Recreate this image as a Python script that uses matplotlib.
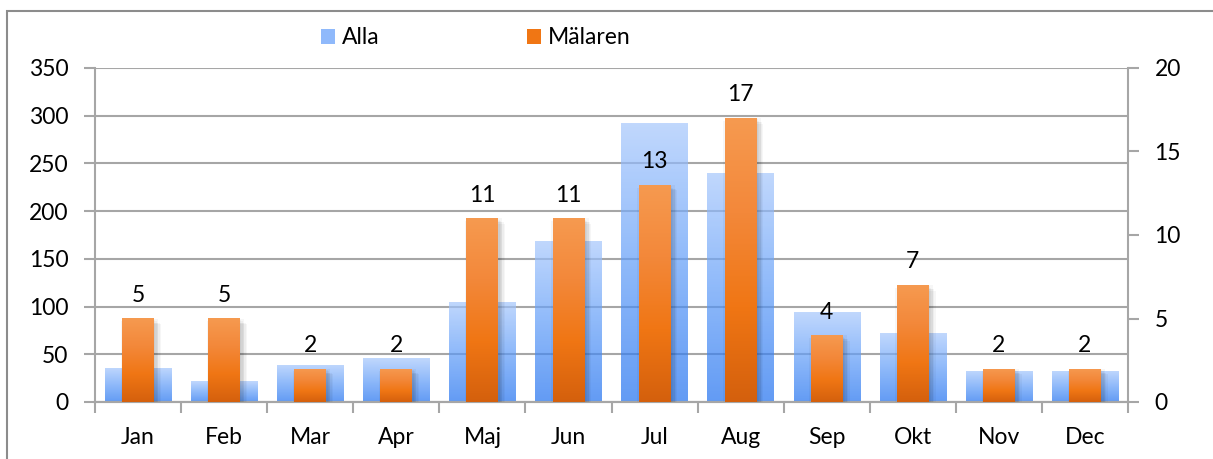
import numpy as np
import matplotlib
matplotlib.use("Agg")
import matplotlib.pyplot as plt
from matplotlib.colors import LinearSegmentedColormap
from matplotlib.patches import Rectangle, Patch
import matplotlib.patheffects as pe

plt.rcParams["font.family"] = ["Lato", "DejaVu Sans"]

months = ["Jan", "Feb", "Mar", "Apr", "Maj", "Jun", "Jul", "Aug", "Sep", "Okt", "Nov", "Dec"]
alla = [36, 22, 39, 46, 105, 169, 292, 240, 94, 72, 33, 33]
malaren = [5, 5, 2, 2, 11, 11, 13, 17, 4, 7, 2, 2]

W, H = 1213, 459
GRID = "#a6a6a6"
FS = 16.5

blue_cm = LinearSegmentedColormap.from_list("blue", ["#1f70f0", "#5f9cf8", "#a6c7fd"])
orange_cm = LinearSegmentedColormap.from_list("orange", ["#d4600d", "#f07614", "#f3883a", "#f69a50"])
grad = np.linspace(0, 1, 256).reshape(-1, 1)

fig = plt.figure(figsize=(W / 100, H / 100), dpi=100)
ax = fig.add_axes([95 / W, 57 / H, (1128 - 95) / W, 334 / H])
ax2 = ax.twinx()

x = np.arange(len(months)) + 0.5

# Alla on the left axis, semi transparent so the grid shows through
ax.set_axisbelow(True)
ax.grid(axis="y", color=GRID, lw=1.5, zorder=0)
bars_a = ax.bar(x, alla, width=0.77, color="none", zorder=2)
for b in bars_a:
    x0, y0 = b.get_x(), b.get_y()
    im = ax.imshow(grad, cmap=blue_cm, origin="lower", aspect="auto", alpha=0.7,
                   extent=(x0, x0 + b.get_width(), y0, y0 + b.get_height()), zorder=2)
    im.set_clip_path(b)

# Mälaren on the right axis with a soft shadow
shadow = [pe.SimplePatchShadow(offset=(dx, dy), shadow_rgbFace="k", alpha=0.035)
          for dx, dy in ((1, -1), (2, -2), (3, -3), (4, -3), (5, -4), (-1, -2), (3, 0))]
bars_m = ax2.bar(x, malaren, width=0.37, color="#f07614", zorder=3,
                 path_effects=shadow + [pe.Normal()])
for b in bars_m:
    x0, y0 = b.get_x(), b.get_y()
    im = ax2.imshow(grad, cmap=orange_cm, origin="lower", aspect="auto",
                    extent=(x0, x0 + b.get_width(), y0, y0 + b.get_height()), zorder=4)
    im.set_clip_path(b)
for xi, v in zip(x, malaren):
    ax2.annotate(str(v), (xi, v), xytext=(0, 12), textcoords="offset points",
                 ha="center", va="baseline", fontsize=FS, color="black", zorder=5)

ax.set_xlim(0, 12)
ax.set_ylim(0, 350)
ax2.set_ylim(0, 20)
ax.set_yticks(np.arange(0, 351, 50))
ax2.set_yticks(np.arange(0, 21, 5))
ax.set_xticks(np.arange(13))
ax.set_xticklabels([])
ax.set_xticks(x, minor=True)
ax.set_xticklabels(months, minor=True)

for a in (ax, ax2):
    for s in a.spines.values():
        s.set_color(GRID)
        s.set_linewidth(1.5)
    a.spines["top"].set_visible(False)
    a.patch.set_visible(False)
ax2.spines["left"].set_visible(False)
ax.spines["right"].set_visible(False)

ax.tick_params(axis="y", length=8, width=1.5, color=GRID, labelsize=FS, pad=11)
ax2.tick_params(axis="y", length=8, width=1.5, color=GRID, labelsize=FS, pad=11)
ax.tick_params(axis="x", which="major", length=8, width=1.5, color=GRID)
ax.tick_params(axis="x", which="minor", length=0, labelsize=FS, pad=18)

handles = [Patch(facecolor="#8fb9fb"), Patch(facecolor="#f07614")]
fig.legend(handles, ["Alla", "Mälaren"], loc="center left",
           bbox_to_anchor=(321 / W, 1 - 38 / H), ncol=2, frameon=False,
           fontsize=FS, handlelength=0.61, handleheight=0.61,
           handletextpad=0.32, columnspacing=6.4, borderpad=0, borderaxespad=0)

# outer chart border, running past the right and bottom edges
fig.patches.append(Rectangle((7 / W, -0.1), 1.2, (H - 11) / H + 0.1,
                             transform=fig.transFigure, fill=False,
                             edgecolor="#8c8c8c", lw=1.5))

fig.savefig("out.png", dpi=100)
